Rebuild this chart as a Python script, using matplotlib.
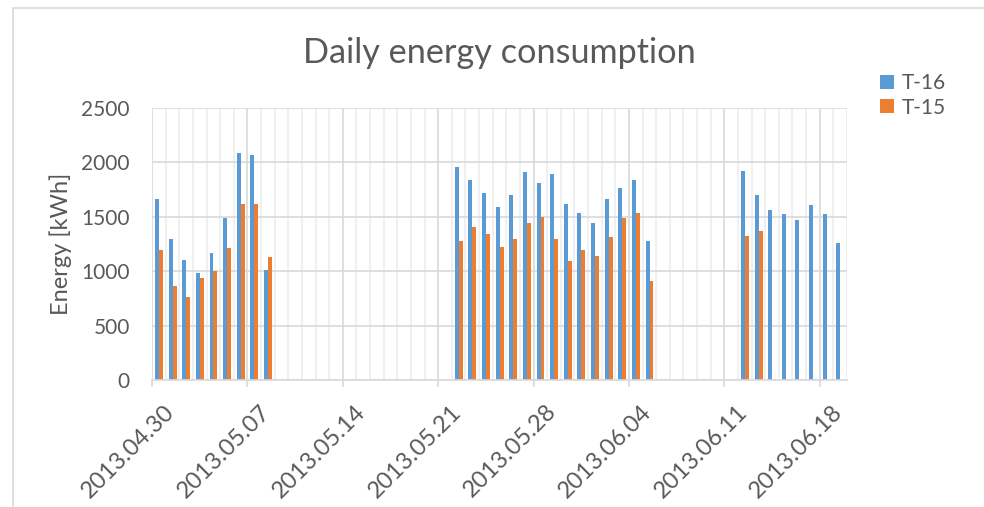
import numpy as np
import pandas as pd
import matplotlib
matplotlib.use("Agg")
import matplotlib.pyplot as plt
import matplotlib.dates as mdates
from matplotlib.patches import Rectangle
from matplotlib.transforms import ScaledTranslation

nan = np.nan

# one value per day, 2013.04.30 .. 2013.06.19
dates = pd.date_range("2013-04-30", "2013-06-19", freq="D")

t16 = ([1660, 1300, 1100, 980, 1170, 1490, 2085, 2070, 1010]
       + [nan] * 13
       + [1960, 1838, 1715, 1587, 1697, 1909, 1810, 1893, 1614, 1532,
          1443, 1663, 1764, 1841, 1277]
       + [nan] * 6
       + [1921, 1697, 1562, 1529, 1470, 1605, 1522, 1259])

t15 = ([1195, 864, 763, 940, 1005, 1213, 1617, 1617, 1130]
       + [nan] * 13
       + [1277, 1406, 1342, 1225, 1296, 1440, 1495, 1296, 1091, 1198,
          1140, 1317, 1492, 1537, 907]
       + [nan] * 6
       + [1320, 1366] + [nan] * 6)

series_names = ["T-16", "T-15"]
yticks = [0, 500, 1000, 1500, 2000, 2500]

blue = "#5B9BD5"
orange = "#ED7D31"
grid = "#D9D9D9"
minor_grid = "#EEEEEE"
text_col = "#595959"

plt.rcParams["font.family"] = ["Lato", "DejaVu Sans"]

fig = plt.figure(figsize=(9.84, 5.07), dpi=100)
ax = fig.add_axes([152 / 984, 1 - 380 / 507, 695 / 984, 272 / 507])

x = mdates.date2num(dates.to_pydatetime())
ax.bar(x + 0.22, t16, width=0.29, align="edge", color=blue, label=series_names[0])
ax.bar(x + 0.51, t15, width=0.29, align="edge", color=orange, label=series_names[1])

ax.set_xlim(x[0], x[0] + len(dates))
ax.set_ylim(0, 2500)
ax.set_yticks(yticks)

# weekly labels, daily minor grid
ax.set_xticks(x[::7])
ax.set_xticklabels([d.strftime("%Y.%m.%d") for d in dates[::7]])
ax.set_xticks(np.arange(x[0], x[0] + len(dates) + 1), minor=True)

ax.set_axisbelow(True)
ax.grid(which="minor", axis="x", color=minor_grid, lw=1.2)
ax.grid(which="major", axis="x", color=grid, lw=1.2)
ax.grid(which="major", axis="y", color=grid, lw=1.2)

for s in ["top", "right", "left"]:
    ax.spines[s].set_visible(False)
ax.spines["bottom"].set_color(grid)
ax.spines["bottom"].set_linewidth(1.2)

ax.tick_params(axis="y", length=0, pad=16, labelsize=15, labelcolor=text_col)
ax.tick_params(axis="x", which="major", length=5, color=grid, width=1.2,
               pad=10, labelsize=17, labelcolor=text_col)
ax.tick_params(axis="x", which="minor", length=0)

for lab in ax.get_xticklabels():
    lab.set_rotation(45)
    lab.set_ha("right")
    lab.set_va("top")
    lab.set_rotation_mode("anchor")
    lab.set_transform(lab.get_transform() + ScaledTranslation(0.12, 0, fig.dpi_scale_trans))

ax.set_ylabel("Energy [kWh]", fontsize=17, color=text_col)
ax.yaxis.set_label_coords(-0.115, 0.5)

fig.text(499 / 984, 1 - 63 / 507, "Daily energy consumption", fontsize=24.7,
         color=text_col, ha="center", va="baseline")

fig.legend(loc="upper left", bbox_to_anchor=(872 / 984, 1 - 65 / 507),
           frameon=False, fontsize=15, handlelength=0.65, handleheight=0.65,
           handletextpad=0.4, labelspacing=0.2, labelcolor=text_col,
           borderaxespad=0)

# chart area border
fig.patches.append(Rectangle((13 / 984, -0.1), 1.2, 1.1 - 8 / 507,
                             transform=fig.transFigure, fill=False,
                             edgecolor=grid, lw=1.2))

fig.savefig("out.png", dpi=100)
